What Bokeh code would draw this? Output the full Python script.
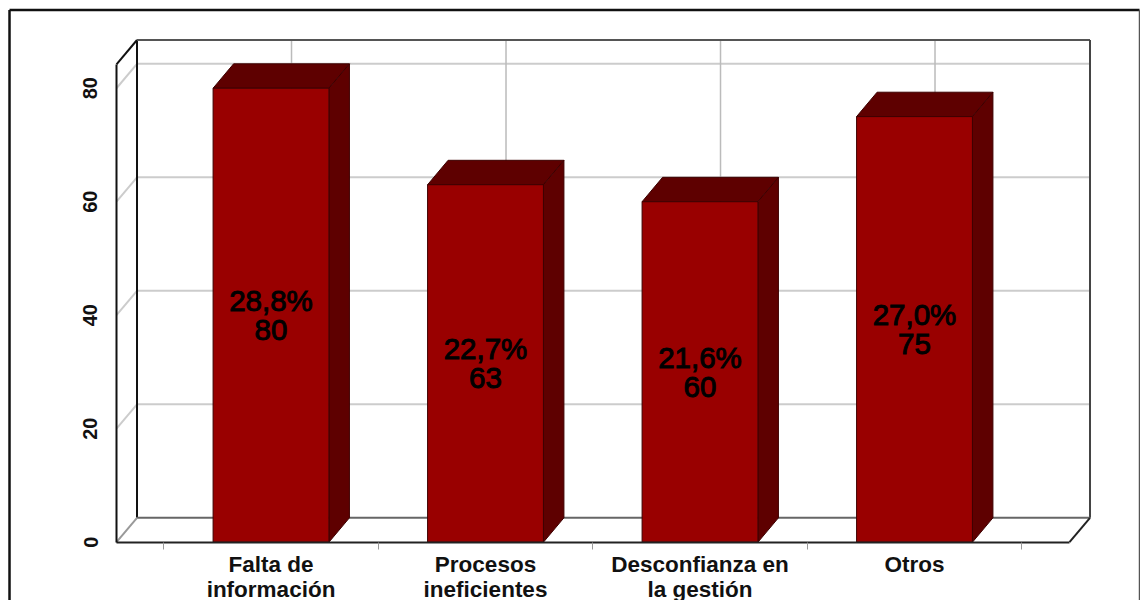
from bokeh.plotting import figure
from bokeh.models import Range1d, FixedTicker
from bokeh.core.properties import value
from bokeh.embed import file_html
from bokeh.resources import INLINE

categories = ["Falta de\ninformación", "Procesos\nineficientes", "Desconfianza en\nla gestión", "Otros"]
counts = [80, 63, 60, 75]
percents = ["28,8%", "22,7%", "21,6%", "27,0%"]
y_ticks = [0, 20, 40, 60, 80]
positions = [0, 1, 2, 3]

# 3D look, in data units
DX, DY = 0.0956, 4.3
HALF = 0.27
X_L, X_R = -0.7203, 3.7226
Y_TOP = 84.2
# chart border, in data units
Y_MIN, Y_MAX = -10.27, 95.46
B_L, B_R, B_T = -1.2191, 4.0490, 93.79

FONT = "Liberation Sans"
p = figure(width=1140, height=600, output_backend="svg", toolbar_location=None,
           x_range=Range1d(-1.2611, 4.0536), y_range=Range1d(Y_MIN, Y_MAX),
           min_border=0, outline_line_color=None, background_fill_color="white")
p.grid.visible = False

# X axis
xa = p.xaxis[0]
xa.fixed_location = 0
xa.ticker = FixedTicker(ticks=positions, minor_ticks=[-0.5, 0.5, 1.5, 2.5, 3.5])
xa.major_label_text_color = None
xa.bounds = (X_L, X_R)
xa.axis_line_color = "#222222"
xa.axis_line_width = 2
xa.major_tick_line_color = None
xa.minor_tick_line_color = "#999999"
xa.minor_tick_out = 7
xa.minor_tick_in = 0

# Y axis
ya = p.yaxis[0]
ya.fixed_location = X_L
ya.ticker = FixedTicker(ticks=y_ticks)
ya.bounds = (0, Y_TOP)
ya.axis_line_color = "#111111"
ya.axis_line_width = 2
ya.major_tick_line_color = None
ya.minor_tick_line_color = None
ya.major_label_orientation = "parallel"
ya.major_label_text_font = FONT
ya.major_label_text_font_style = "bold"
ya.major_label_text_font_size = "20px"
ya.major_label_text_color = "#111111"
ya.major_label_standoff = 13

# Chart border, open at the bottom where the picture is cut
p.line([B_L, B_L], [Y_MIN, B_T], line_color="#111111", line_width=2.5)
p.line([B_L, B_R], [B_T, B_T], line_color="#111111", line_width=2.5)
p.line([B_R, B_R], [Y_MIN, B_T], line_color="#555555", line_width=1.5)

# Grid on the back and side walls
for t in y_ticks[1:]:
    p.line([X_L + DX, X_R + DX], [t + DY, t + DY], line_color="#cccccc", line_width=2)
    p.line([X_L, X_L + DX], [t, t + DY], line_color="#cccccc", line_width=2)
for c in positions:
    p.line([c + DX, c + DX], [DY, Y_TOP + DY], line_color="#bbbbbb", line_width=1.5)

# Walls
p.line([X_L, X_L + DX], [Y_TOP, Y_TOP + DY], line_color="#111111", line_width=2)
p.line([X_L + DX, X_L + DX], [DY, Y_TOP + DY], line_color="#111111", line_width=2)
p.line([X_L + DX, X_R + DX], [Y_TOP + DY, Y_TOP + DY], line_color="#555555", line_width=2)
p.line([X_R + DX, X_R + DX], [DY, Y_TOP + DY], line_color="#444444", line_width=2)
p.line([X_L + DX, X_R + DX], [DY, DY], line_color="#666666", line_width=2)
p.line([X_L, X_L + DX], [0, DY], line_color="#999999", line_width=2)
p.line([X_R, X_R + DX], [0, DY], line_color="#222222", line_width=2)

# Bars
DARK, FRONT, EDGE = "#5e0000", "#990000", "#3d0000"
for c, v in zip(positions, counts):
    l, r = c - HALF, c + HALF
    p.patch([l, r, r + DX, l + DX], [v, v, v + DY, v + DY], fill_color=DARK, line_color=EDGE, line_width=1)
    p.patch([r, r + DX, r + DX, r], [0, DY, v + DY, v], fill_color=DARK, line_color=EDGE, line_width=1)
    p.quad(left=l, right=r, bottom=0, top=v, fill_color=FRONT, line_color=EDGE, line_width=1)

# Value labels
p.text(x=positions, y=[v / 2 for v in counts],
       text=[f"{a}\n{b}" for a, b in zip(percents, counts)],
       text_align="center", text_baseline="middle", text_color="#000000",
       text_font=value(FONT), text_font_size="29.5px", text_line_height=0.88,
       text_outline_color="#000000")

# Category labels under the axis
p.text(x=positions, y=[0] * len(positions), y_offset=10, text=categories,
       text_align="center", text_baseline="top", text_color="#111111",
       text_font=value(FONT), text_font_style="bold", text_font_size="22.5px",
       text_line_height=0.98)

open("out.html", "w").write(file_html(p, INLINE))
